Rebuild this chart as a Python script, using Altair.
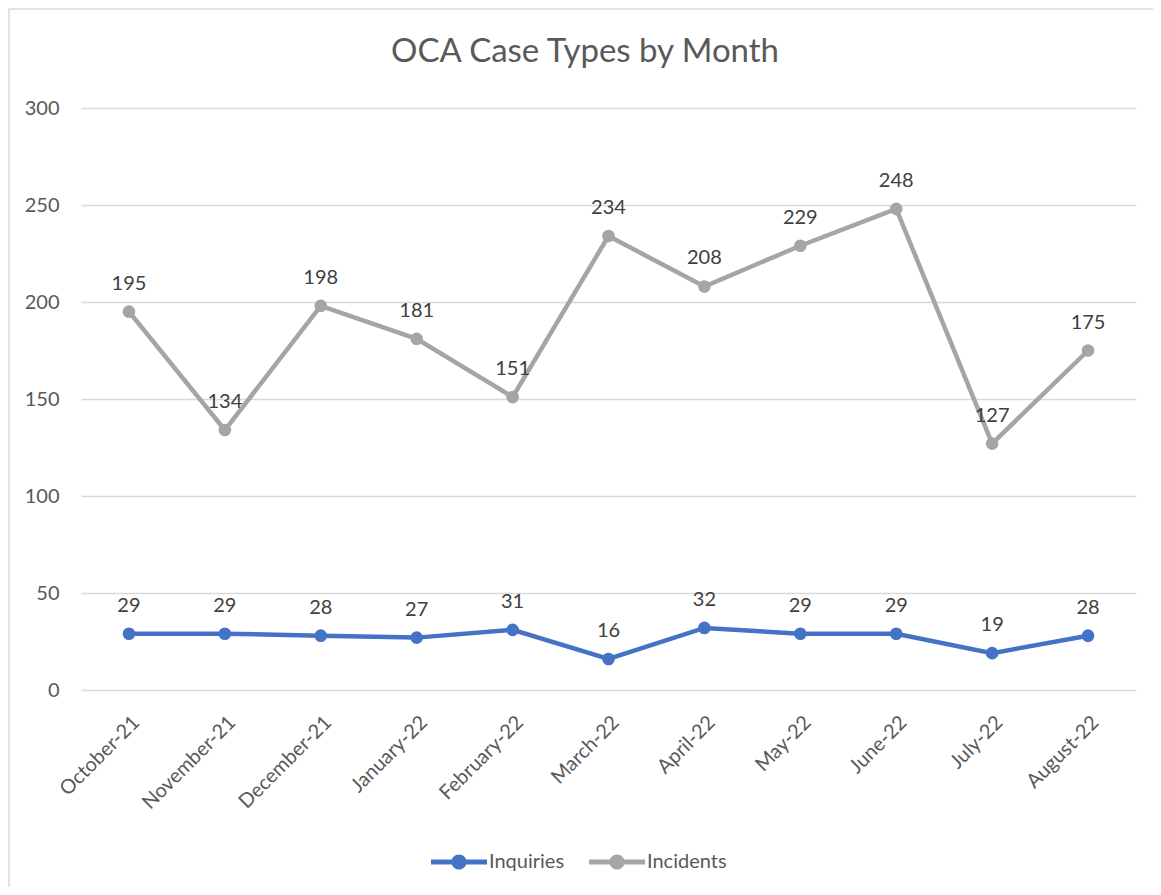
import altair as alt
import pandas as pd

months = ["October-21", "November-21", "December-21", "January-22", "February-22",
          "March-22", "April-22", "May-22", "June-22", "July-22", "August-22"]
inquiries = [29, 29, 28, 27, 31, 16, 32, 29, 29, 19, 28]
incidents = [195, 134, 198, 181, 151, 234, 208, 229, 248, 127, 175]
series_names = ["Inquiries", "Incidents"]
series_colors = ["#4472C4", "#A5A5A5"]
chart_title = "OCA Case Types by Month"

rows = []
for m, a, b in zip(months, inquiries, incidents):
    rows.append({"month": m, "series": "Inquiries", "value": a})
    rows.append({"month": m, "series": "Incidents", "value": b})
df = pd.DataFrame(rows)

FONT = "Lato"
legend_path = ("M -1 -0.09 L 1 -0.09 L 1 0.09 L -1 0.09 Z "
               "M 0 -0.27 A 0.27 0.27 0 1 1 0 0.27 A 0.27 0.27 0 1 1 0 -0.27 Z")

x = alt.X("month:N", sort=months, title=None,
          scale=alt.Scale(paddingInner=0, paddingOuter=0.5),
          axis=alt.Axis(labelAngle=-45, labelFontSize=20, labelColor="#595959",
                        labelFont=FONT, domain=False, ticks=False, labelPadding=22))
y = alt.Y("value:Q", title=None,
          scale=alt.Scale(domain=[0, 300]),
          axis=alt.Axis(values=[0, 50, 100, 150, 200, 250, 300], labelFontSize=20,
                        labelColor="#595959", labelFont=FONT, domain=False, ticks=False,
                        gridColor="#d9d9d9", gridWidth=1.3, labelPadding=22))
color = alt.Color("series:N", title=None,
                  scale=alt.Scale(domain=series_names, range=series_colors),
                  legend=alt.Legend(orient="none", legendX=350, legendY=726,
                                    direction="horizontal", symbolType=legend_path,
                                    symbolSize=3136, symbolStrokeWidth=0,
                                    labelFontSize=20, labelColor="#595959",
                                    labelFont=FONT, columnPadding=24, labelOffset=2))

one = pd.DataFrame({"t": [chart_title]})
border = alt.Chart(one).mark_rect(
    fillOpacity=0, stroke="#d9d9d9", strokeWidth=1.5
).encode(x=alt.value(-72), x2=alt.value(1120), y=alt.value(-99), y2=alt.value(820))
title = alt.Chart(one).mark_text(
    fontSize=33, color="#595959", font=FONT, baseline="middle", align="center"
).encode(x=alt.value(504), y=alt.value(-56), text="t:N")

base = alt.Chart(df)
lines = base.mark_line(strokeWidth=4.5).encode(x=x, y=y, color=color)
points = base.mark_point(filled=True, size=160, opacity=1).encode(x=x, y=y, color=color)
labels = base.mark_text(dy=-28, fontSize=20, color="#404040", font=FONT).encode(
    x=x, y=y, text="value:Q")

chart = alt.layer(border, title, lines, points, labels).properties(
    width=1055, height=582,
    autosize=alt.AutoSizeParams(type="none"),
    padding={"left": 73, "top": 100, "right": 17, "bottom": 197},
    background="white",
).configure_view(stroke=None)

chart.save("out.html", embed_options={"renderer": "svg", "actions": False})
